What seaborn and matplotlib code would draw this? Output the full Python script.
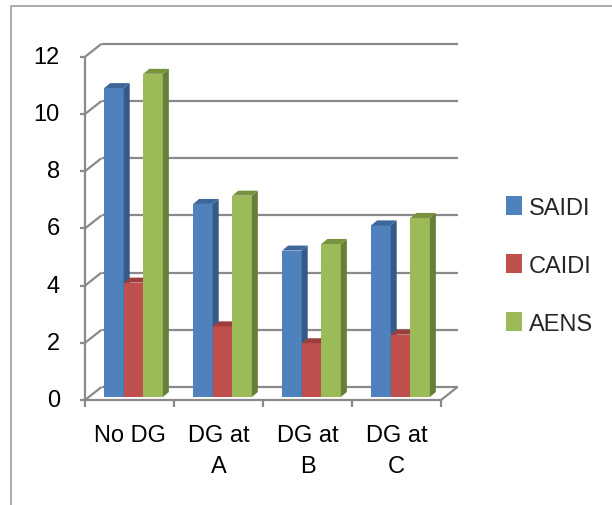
import numpy as np
import pandas as pd
import matplotlib
matplotlib.use("Agg")
import matplotlib.pyplot as plt
from matplotlib.patches import Polygon
from matplotlib.lines import Line2D
import seaborn as sns

# Reliability indices for each DG placement case
categories = ["No DG", "DG at\nA", "DG at\nB", "DG at\nC"]
series = ["SAIDI", "CAIDI", "AENS"]
saidi = [10.8, 6.75, 5.12, 6.0]
caidi = [4.0, 2.47, 1.88, 2.18]
aens = [11.3, 7.04, 5.35, 6.26]
y_ticks = [0, 2, 4, 6, 8, 10, 12]

df = pd.DataFrame({
    "Case": categories * 3,
    "Index": np.repeat(series, len(categories)),
    "Value": saidi + caidi + aens,
})

front_cols = {"SAIDI": "#4F81BD", "CAIDI": "#C0504D", "AENS": "#9BBB59"}
side_cols = {"SAIDI": "#365A87", "CAIDI": "#8E3A38", "AENS": "#687F37"}
top_cols = {"SAIDI": "#3D679A", "CAIDI": "#9C3F3C", "AENS": "#789340"}
grid_col = "#8A8A8A"

sns.set_style("white")
plt.rcParams["font.family"] = ["Liberation Sans Narrow", "Liberation Sans", "DejaVu Sans"]
FS = 17

W, H = 612, 506
fig = plt.figure(figsize=(W / 100, H / 100), dpi=100)

# plane of the bar fronts, in pixels
X0, X1 = 89, 445
Y0, Ytop = 398, 398 - 343.2
ax = fig.add_axes([X0 / W, 1 - Y0 / H, (X1 - X0) / W, (Y0 - Ytop) / H])

sns.barplot(data=df, x="Case", y="Value", hue="Index", order=categories,
            hue_order=series, palette=front_cols, width=0.66, saturation=1,
            linewidth=0, ax=ax)

ax.set_xlim(-0.5, len(categories) - 0.5)
ax.set_ylim(0, 12)
ax.axis("off")

px = (len(categories)) / (X1 - X0)   # data units per pixel, x
py = 12 / (Y0 - Ytop)                # data units per pixel, y

# depth offsets: front axis plane, back wall, bar depth
fdx, fdy = -4 * px, -3 * py
bdx, bdy = 12.5 * px, 10 * py
ddx, ddy = 6 * px, 5 * py
xl, xr = -0.5, len(categories) - 0.5
lw = 1.6
line_kw = dict(color=grid_col, lw=lw, clip_on=False, zorder=1,
               solid_capstyle="butt")

# back wall gridlines and side wall diagonals
for v in y_ticks:
    ax.plot([xl + bdx, xr + bdx], [v + bdy, v + bdy], **line_kw)
    ax.plot([xl + fdx, xl + bdx], [v + fdy, v + bdy], **line_kw)
    ax.plot([xl + fdx - 5 * px, xl + fdx], [v + fdy, v + fdy], **line_kw)
    ax.text(xl + (60 - X0) * px, v + fdy, f"{v}", ha="right", va="center",
            fontsize=FS, color="black")

# front axes and floor edge
ax.plot([xl + fdx, xl + fdx], [fdy, 12 + fdy], **line_kw)
ax.plot([xl + fdx, xr + fdx], [fdy, fdy], **line_kw)
ax.plot([xr + fdx, xr + bdx], [fdy, bdy], **line_kw)
for i in range(len(categories) + 1):
    xt = i - 0.5 + fdx
    ax.plot([xt, xt], [fdy, fdy - 7 * py], **line_kw)

for i, lab in enumerate(categories):
    ax.text(i + fdx, fdy - 24 * py, lab, ha="center", va="top",
            fontsize=FS, color="black", linespacing=1.55)

# give each bar its side and top faces
for k, (name, cont) in enumerate(zip(series, ax.containers)):
    for p in cont.patches:
        x0, w, h = p.get_x(), p.get_width(), p.get_height()
        x1 = x0 + w
        p.set_zorder(3 + 2 * k)
        side = Polygon([(x1, 0), (x1 + ddx, ddy), (x1 + ddx, h + ddy), (x1, h)],
                       closed=True, facecolor=side_cols[name], edgecolor="none",
                       zorder=4 + 2 * k, clip_on=False)
        top = Polygon([(x0, h), (x1, h), (x1 + ddx, h + ddy), (x0 + ddx, h + ddy)],
                      closed=True, facecolor=top_cols[name], edgecolor="none",
                      zorder=4 + 2 * k, clip_on=False)
        ax.add_patch(side)
        ax.add_patch(top)
        p.set_clip_on(False)

handles = ax.legend_.legend_handles
ax.legend_.remove()
fig.legend(handles, series, loc="upper left",
           bbox_to_anchor=(506 / W, 1 - 197 / H), frameon=False,
           fontsize=FS, handlelength=0.68, handleheight=0.85,
           handletextpad=0.3, labelspacing=1.5, borderpad=0,
           borderaxespad=0)

# chart area border
fig.add_artist(Line2D([11 / W, 11 / W, 1], [0, 1 - 7 / H, 1 - 7 / H],
                      transform=fig.transFigure, color="#A5A5A5", lw=1.3))

fig.savefig("out.png", dpi=100)
